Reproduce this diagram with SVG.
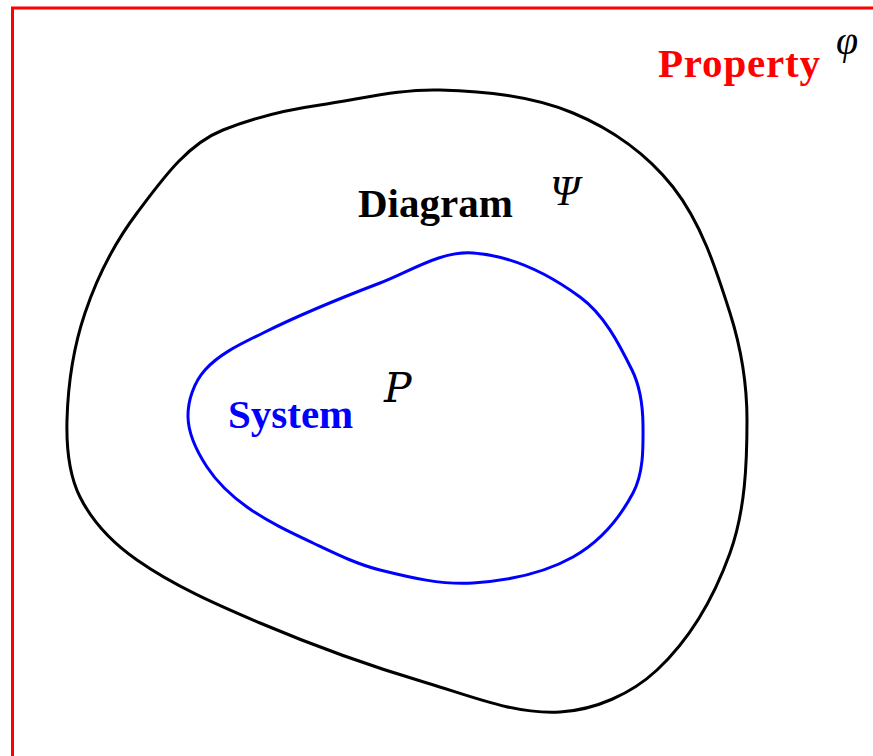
<svg xmlns="http://www.w3.org/2000/svg" width="873" height="756" viewBox="0 0 873 756">
<style>
.lbl{font-family:"Liberation Serif","Times New Roman",serif;font-weight:bold;font-size:41px}
.math{font-family:"Liberation Serif","Times New Roman",serif;font-style:italic;fill:#000}
.curve{fill:none;stroke-width:3;stroke-linejoin:round}
</style>
<rect width="873" height="756" fill="#fff"/>
<g id="property">
<rect x="12.5" y="8" width="900" height="800" fill="none" stroke="#ff0000" stroke-width="3"/>
<text class="lbl" x="658" y="77" fill="#ff0000" font-size="42" letter-spacing="0.8">Property</text>
<text class="math" x="836" y="54" font-size="40">φ</text>
</g>
<g id="diagram">
<path class="curve" stroke="#000" d="M440,90 C485,91.4 531.5,95.7 573,113 C611.3,128.9 647.4,154.4 673,187 C701.5,223.3 716,269.1 730,313 C740.9,347.4 747,383.9 747,420 C747,464.7 745.1,510.9 730,553 C714.4,596.3 690.6,638.6 657,670 C631.3,694 595.1,710 560,712 C514.7,714.6 470.5,695.9 427,683 C370.2,666.2 314.5,646.1 260,623 C217.6,605 174.8,586.4 137,560 C113.8,543.8 92.7,522.3 80,497 C68.4,473.7 66.3,446 67,420 C68,383.8 73.4,347.3 85,313 C97,277.4 114.4,243 137,213 C161,181.2 186,144.7 223,130 C254.1,117.6 286.9,109.7 320,105 C359.9,99.4 399.7,88.7 440,90 Z"/>
<text class="lbl" x="358" y="217" fill="#000">Diagram</text>
<text class="math" x="550" y="205" font-size="42">Ψ</text>
</g>
<g id="system">
<path class="curve" stroke="#0000ff" d="M473,253 C511.5,255.7 548.9,274.1 580,297 C604.1,314.7 618.8,343.2 632,370 C640.3,386.8 642.8,406.3 643,425 C643.2,447.9 643.7,472.8 633,493 C619.3,518.8 598.4,542.7 573,557 C543,573.9 507.3,580.7 473,583 C441.8,585.1 410.4,577.6 380,570 C356.6,564.2 334.8,553.3 313,543 C290.3,532.3 267.4,521.6 247,507 C231.6,496 217.4,482.8 207,467 C197.2,452.1 188.4,434.8 188,417 C187.7,400.3 193.9,382.5 205,370 C220.3,352.9 242.5,343.2 263,333 C301,314.1 340.4,298.1 380,283 C410.5,271.4 440.5,250.7 473,253 Z"/>
<text class="lbl" x="228" y="428" fill="#0000ff" font-size="42">System</text>
<text x="384" y="402" font-family="DejaVu Serif, serif" font-style="italic" font-size="41" fill="#000">P</text>
</g>
<g id="connectors"/>
</svg>
